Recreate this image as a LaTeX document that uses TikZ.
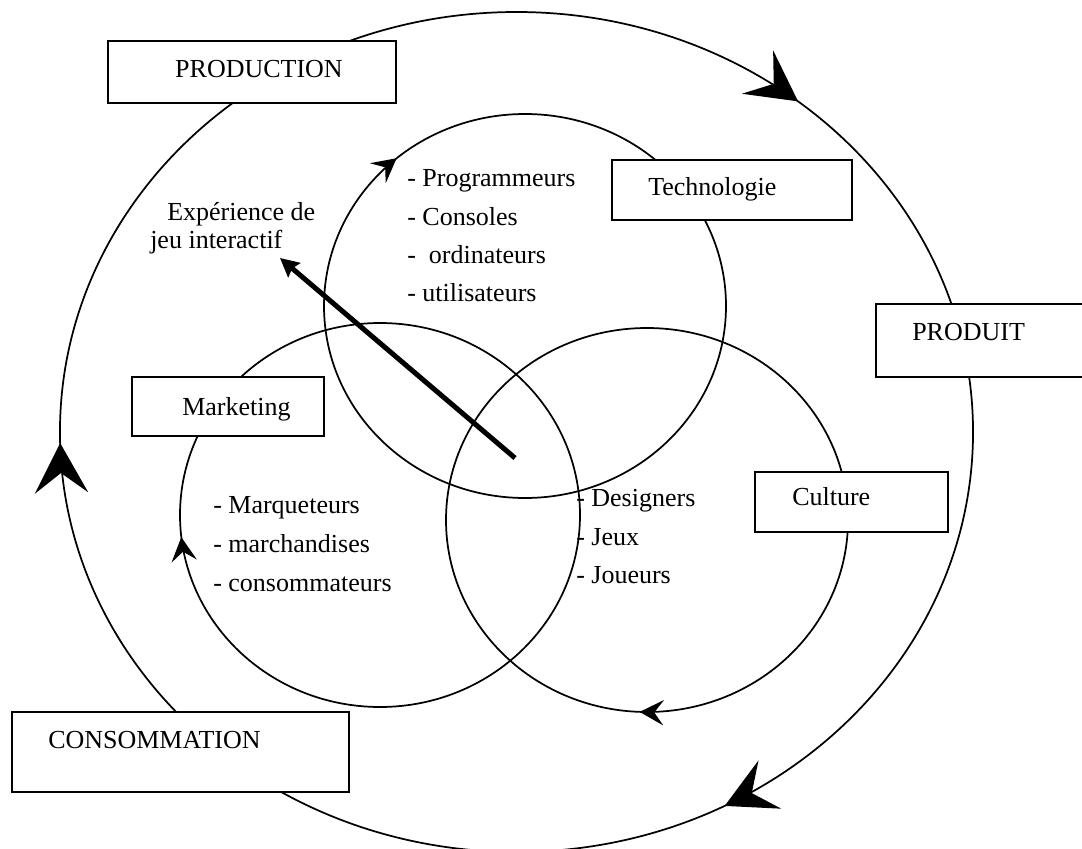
\documentclass[tikz,border=0pt]{standalone}
\usepackage{fontspec}
\setmainfont{Liberation Serif}
\usetikzlibrary{arrows.meta,decorations.markings}
\begin{document}
\begin{tikzpicture}[x=0.75pt,y=-0.75pt,
  ring/.style={line width=1.3pt},
  box/.style={draw, line width=1.3pt, fill=white, inner sep=0pt},
  lbl/.style={inner sep=0pt, anchor=base west, font=\fontsize{19.5}{23}\selectfont},
  bigtip/.tip={Stealth[length=37.5pt,width=40pt,inset=15pt]},
  smalltip/.tip={Stealth[length=18pt,width=19pt,inset=7pt]},
]
\useasboundingbox[fill=white] (0,0) rectangle (1082,849);

% outer cycle
\draw[ring, postaction={decorate}, decoration={markings,
    mark=at position 0.141 with {\arrowreversed{bigtip}},
    mark=at position 0.504 with {\arrowreversed{bigtip}},
    mark=at position 0.828 with {\arrowreversed{bigtip}}}]
  (516.5,432) ellipse [x radius=342.4pt, y radius=315pt];

% technology circle
\draw[ring, postaction={decorate}, decoration={markings,
    mark=at position 0.362 with {\arrowreversed{smalltip}}}]
  (525,306) ellipse [x radius=150.75pt, y radius=144pt];

% marketing circle
\draw[ring, postaction={decorate}, decoration={markings,
    mark=at position 0.518 with {\arrowreversed{smalltip}}}]
  (380,515) ellipse [x radius=150pt, y radius=144pt];

% culture circle
\draw[ring, postaction={decorate}, decoration={markings,
    mark=at position 0.744 with {\arrowreversed{smalltip}}}]
  (647,520) ellipse [x radius=150.75pt, y radius=144pt];

% boxes
\node[box, minimum width=216pt, minimum height=46.5pt] (prodbox) at (252,72) {};
\node[box, minimum width=180pt, minimum height=45pt] (techbox) at (732,190) {};
\node[box, minimum width=165pt, minimum height=54.75pt] (produitbox) at (986,340.5) {};
\node[box, minimum width=144pt, minimum height=44.25pt] (markbox) at (228,406.5) {};
\node[box, minimum width=144.75pt, minimum height=45pt] (cultbox) at (851.5,502) {};
\node[box, minimum width=252.75pt, minimum height=60pt] (consbox) at (180.5,752) {};

% box labels
\node[lbl, anchor=base] (prodtxt) at (259,77.5) {PRODUCTION};
\node[lbl] (techtxt) at (648,195.5) {Technologie};
\node[lbl] (produittxt) at (912,340.5) {PRODUIT};
\node[lbl] (marktxt) at (182,415.5) {Marketing};
\node[lbl] (culttxt) at (792,505.5) {Culture};
\node[lbl] (constxt) at (48,748.5) {CONSOMMATION};

% experience label
\node[lbl] (exp1) at (167,220.5) {Expérience de};
\node[lbl] (exp2) at (150,248.5) {jeu interactif};

% lists
\node[lbl] (tl1) at (407,186.5) {- Programmeurs};
\node[lbl] (tl2) at (407,225) {- Consoles};
\node[lbl] (tl3) at (407,263.5) {-~ ordinateurs};
\node[lbl] (tl4) at (407,301.5) {- utilisateurs};

\node[lbl] (ml1) at (213,513.5) {- Marqueteurs};
\node[lbl] (ml2) at (213,552.5) {- marchandises};
\node[lbl] (ml3) at (213,591.5) {- consommateurs};

\node[lbl] (cl1) at (576,506.5) {- Designers};
\node[lbl] (cl2) at (576,545.5) {- Jeux};
\node[lbl] (cl3) at (576,583.5) {- Joueurs};

% thick arrow
\coordinate (expTail) at (515,458);
\coordinate (expTip) at (280,258);
\draw[line width=3.75pt, -{Stealth[length=14pt,width=14pt,inset=2pt]}] (expTail) -- (expTip);
\end{tikzpicture}
\end{document}
